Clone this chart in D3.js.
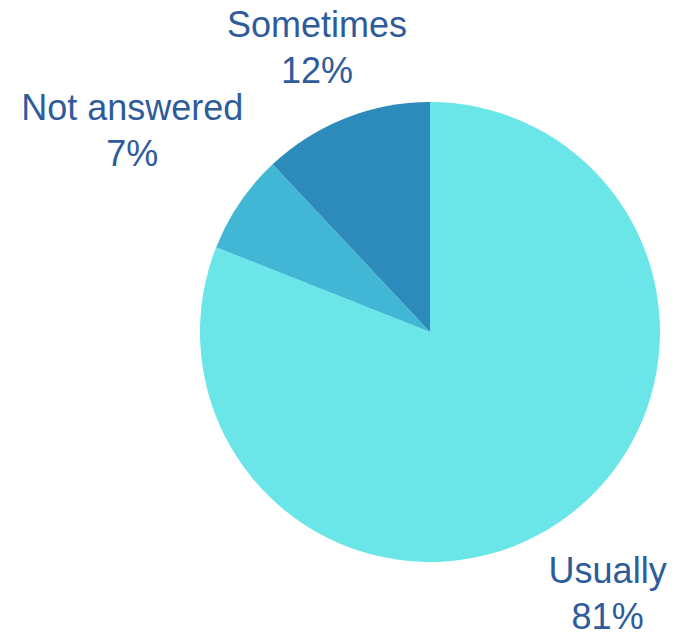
<!DOCTYPE html>
<html lang="en">
<head>
    <meta charset="UTF-8">
    <title>Pie chart</title>
    <style>
        body {
            margin: 0;
            padding: 0;
            background-color: #fff;
        }
        svg {
            display: block;
        }
        .label {
            font-family: 'Liberation Sans', Arial, sans-serif;
            font-size: 36px;
            fill: #2E5C9A;
        }
    </style>
</head>
<body>
    <svg id="chart" width="692" height="638"></svg>

    <script src="https://d3js.org/d3.v7.min.js"></script>
    <script>
// Data
const categories = ["Usually", "Not answered", "Sometimes"];
const values = [81, 7, 12];
const colors = ["#6AE5E8", "#42B7D5", "#2C8BBA"];

const svg = d3.select("#chart"),
    width = +svg.attr("width"),
    height = +svg.attr("height");

const radius = 230;
const cx = 430, cy = 332;

// how far out each label sits from the centre (Excel "best fit" look)
const labelDist = { "Usually": 316, "Not answered": 360, "Sometimes": 307 };

const data = categories.map((c, i) => ({ name: c, value: values[i], color: colors[i] }));

const pie = d3.pie()
    .sort(null)
    .value(d => d.value);

const arc = d3.arc()
    .innerRadius(0)
    .outerRadius(radius);

const g = svg.append("g")
    .attr("transform", `translate(${cx},${cy})`);

const arcs = pie(data);

g.selectAll("path")
    .data(arcs)
    .enter().append("path")
    .attr("d", arc)
    .attr("fill", d => d.data.color);

// Labels
const total = d3.sum(values);

const labels = g.selectAll("text.label")
    .data(arcs)
    .enter().append("text")
    .attr("class", "label")
    .attr("text-anchor", "middle")
    .attr("transform", d => {
        const k = labelDist[d.data.name];
        const c = d3.arc().innerRadius(k).outerRadius(k).centroid(d);
        return `translate(${c[0]},${c[1]})`;
    });

labels.append("tspan")
    .attr("x", 0)
    .attr("y", -10)
    .text(d => d.data.name);

labels.append("tspan")
    .attr("x", 0)
    .attr("y", 36)
    .text(d => Math.round(d.data.value / total * 100) + "%");
    </script>
</body>
</html>
